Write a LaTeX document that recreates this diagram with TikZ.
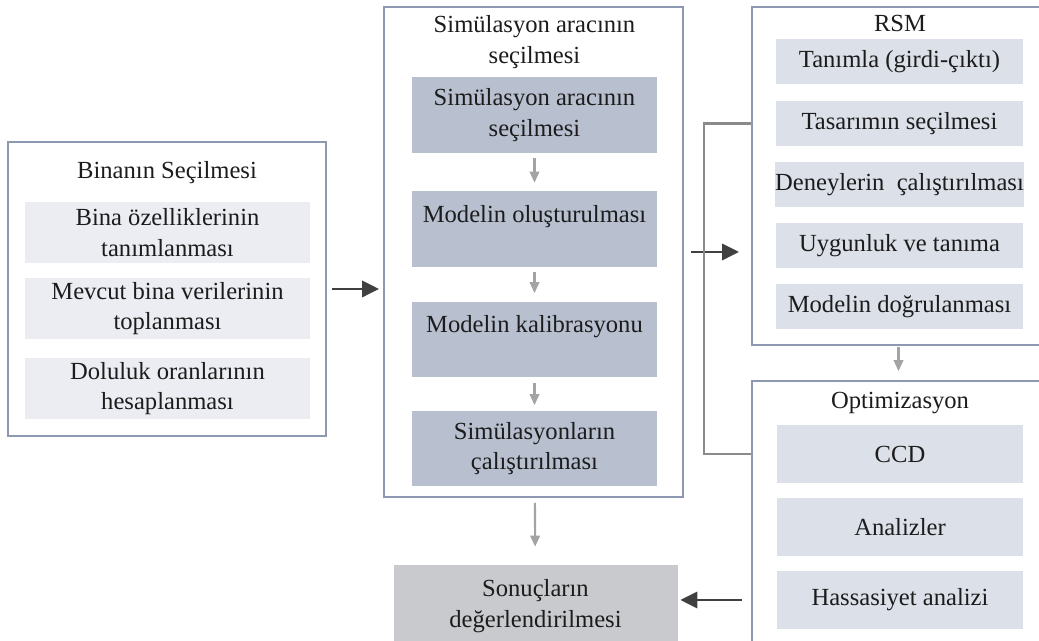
\documentclass[tikz,border=0pt]{standalone}
\usepackage{fontspec}
\setmainfont{Liberation Serif}
\usetikzlibrary{arrows.meta}
\definecolor{boxline}{HTML}{8E99B1}
\definecolor{leftfill}{HTML}{EBEDF2}
\definecolor{midfill}{HTML}{B8C0D0}
\definecolor{rsmfill}{HTML}{DCE0E9}
\definecolor{resfill}{HTML}{C9CACD}
\definecolor{grayarrow}{HTML}{A3A3A3}
\definecolor{darkarrow}{HTML}{404040}
\definecolor{linkline}{HTML}{8A8A8A}
\definecolor{txt}{HTML}{1C1C1C}

\begin{document}
\begin{tikzpicture}[x=0.02cm, y=-0.02cm,
  every node/.style={font=\fontsize{14}{17.5}\selectfont, text=txt, align=center, inner sep=0pt},
  outer/.style={draw=boxline, line width=1pt, fill=white},
  leftitem/.style={fill=leftfill, minimum width=5.7cm, minimum height=1.22cm},
  miditem/.style={fill=midfill, minimum width=4.9cm, minimum height=1.52cm},
  rsmitem/.style={fill=rsmfill, minimum width=4.94cm, minimum height=0.9cm},
  optitem/.style={fill=rsmfill, minimum width=4.92cm, minimum height=1.16cm},
  thin/.style={draw=grayarrow, line width=1.2pt, -{Triangle[length=0.22cm,width=0.19cm]}},
  thick/.style={draw=darkarrow, line width=1.7pt, -{Triangle[length=0.34cm,width=0.32cm]}}]
 \useasboundingbox (0,0) rectangle (1039,641);

 % Binanin secilmesi
 \draw (167, 289) node[outer, minimum width=6.36cm, minimum height=5.88cm] (L) {};
 \draw (167, 173) node (Ltitle) {Binanın Seçilmesi};
 \draw (167.5, 232.5) node[leftitem] (L1) {Bina özelliklerinin\\tanımlanması};
 \draw (167.5, 308.5) node[leftitem] (L2) {Mevcut bina verilerinin\\toplanması};
 \draw (167.5, 388.5) node[leftitem] (L3) {Doluluk oranlarının\\hesaplanması};

 % simulasyon
 \draw (533.5, 252) node[outer, minimum width=5.98cm, minimum height=9.8cm] (M) {};
 \draw (534.5, 42) node (Mtitle) {Simülasyon aracının\\seçilmesi};
 \draw (534.5, 115) node[miditem] (M1) {Simülasyon aracının\\seçilmesi};
 \draw (534.5, 229) node[miditem] (M2) {Modelin oluşturulması\\\mbox{}};
 \draw (534.5, 339.5) node[miditem] (M3) {Modelin kalibrasyonu\\\mbox{}};
 \draw (534.5, 448.5) node[miditem] (M4) {Simülasyonların\\çalıştırılması};

 % sonuc
 \draw (535.5, 606) node[fill=resfill, draw=resfill, minimum width=5.66cm, minimum height=1.64cm] (R) {Sonuçların\\değerlendirilmesi};

 % RSM
 \draw (898.5, 176) node[outer, minimum width=5.86cm, minimum height=6.76cm] (S) {};
 \draw (900, 23) node (Stitle) {RSM};
 \draw (899.5, 61.5) node[rsmitem] (S1) {Tanımla (girdi-çıktı)};
 \draw (899.5, 123.5) node[rsmitem] (S2) {Tasarımın seçilmesi};
 \draw (899.5, 184.5) node[rsmitem] (S3) {Deneylerin\ \ çalıştırılması};
 \draw (899.5, 245.5) node[rsmitem] (S4) {Uygunluk ve tanıma};
 \draw (899.5, 306.5) node[rsmitem] (S5) {Modelin doğrulanması};

 % optimizasyon
 \draw (898.5, 515.5) node[outer, minimum width=5.86cm, minimum height=5.38cm] (O) {};
 \draw (900, 403) node (Otitle) {Optimizasyon};
 \draw (900, 454) node[optitem] (O1) {CCD};
 \draw (900, 527) node[optitem] (O2) {Analizler};
 \draw (900, 600) node[optitem] (O3) {Hassasiyet analizi};

 \coordinate (br) at (704, 0);

 \draw[thin, shorten <=0.1cm, shorten >=0.16cm] (M1) -- (M2);
 \draw[thin, shorten <=0.1cm, shorten >=0.16cm] (M2) -- (M3);
 \draw[thin, shorten <=0.1cm, shorten >=0.1cm] (M3) -- (M4);
 \draw[thin, shorten <=0.1cm, shorten >=0.36cm] (M) -- (R);
 \draw[thin, shorten <=0.02cm, shorten >=0.18cm] (S) -- (O);
 \draw[thick, shorten <=0.1cm, shorten >=0.08cm] (L.east) -- (L.east -| M.west);
 \draw[thick, shorten <=0.14cm, shorten >=0.24cm] (M.east) -- (M.east -| S.west);
 \draw[thick, shorten <=0.18cm, shorten >=0.06cm] (O.west |- O3) -- (R.east |- O3);
 \draw[linkline, line width=1.2pt] (S.west |- S2) -| (br |- O1) -- (O.west |- O1);
\end{tikzpicture}
\end{document}
